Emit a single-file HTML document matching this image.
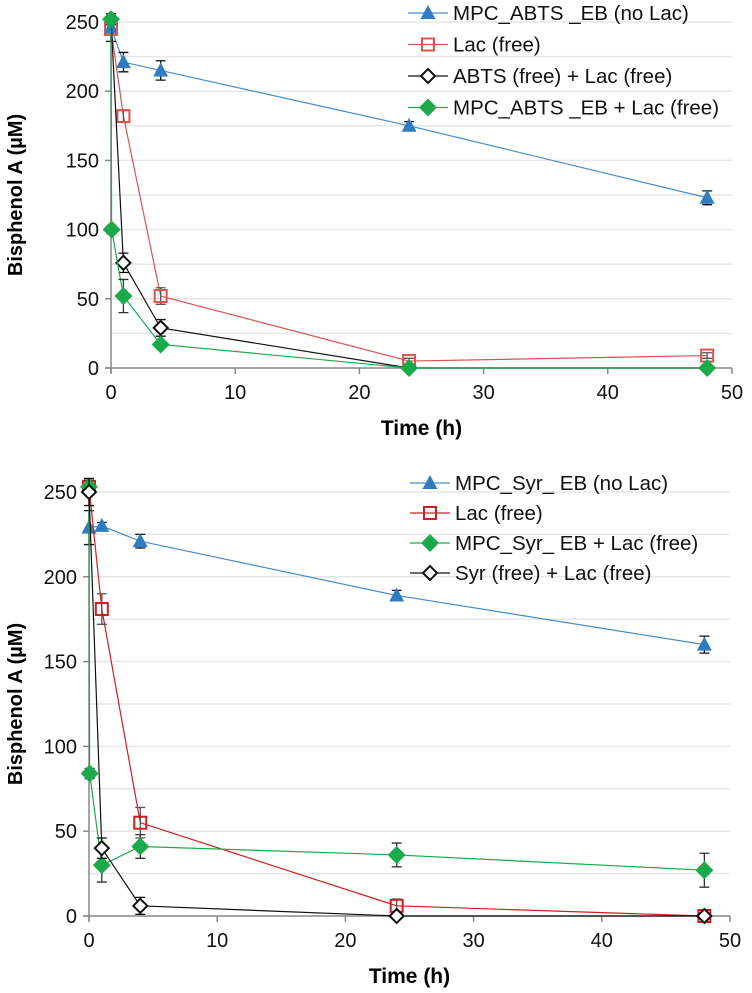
<!DOCTYPE html>
<html><head><meta charset="utf-8"><style>
html,body{margin:0;padding:0;background:#fff}
svg{display:block;font-family:"Liberation Sans",Arial,sans-serif}
</style></head><body>
<svg id="c" width="752" height="993" viewBox="0 0 752 993"></svg>
<script>
const topTimesBlue=[0,1,4,24,48];
const topBlue=[246,221,215,175,123];
const topBlueErr=[10,7,7,3,5];
const topTimesRed=[0,1,4,24,48];
const topRed=[245,182,52,5,9];
const topRedErr=[4,4,6,2,2];
const topTimesBlack=[0,1,4,24,48];
const topBlack=[252,76,29,0,0];
const topBlackErr=[4,7,6,1,1];
const topTimesGreen=[0,0.05,1,4,24,48];
const topGreen=[252,100,52,17,0,0];
const topGreenErr=[4,3,12,2,1,1];

const botTimesBlue=[0,1,4,24,48];
const botBlue=[229,230,221,189,160];
const botBlueErr=[10,2,4,3,5];
const botTimesRed=[0,1,4,24,48];
const botRed=[253,181,55,6,0];
const botRedErr=[4,9,9,4,1];
const botTimesGreen=[0,0.05,1,4,24,48];
const botGreen=[253,84,30,41,36,27];
const botGreenErr=[4,3,10,7,7,10];
const botTimesBlack=[0,1,4,24,48];
const botBlack=[250,40,6,0,0];
const botBlackErr=[8,6,5,1,1];

const xTicks=[0,10,20,30,40,50];
const yTicks=[0,50,100,150,200,250];
const gridVals=[25,50,75,100,125,150,175,200,225,250];

const NS="http://www.w3.org/2000/svg";
const svg=document.getElementById('c');
function mk(tag,attrs,parent){const e=document.createElementNS(NS,tag);for(const k in attrs)e.setAttribute(k,attrs[k]);(parent||svg).appendChild(e);return e;}

function chart(cfg){
  const g=mk('g',{});
  
  
  const X=t=>cfg.x0+t*(cfg.x1-cfg.x0)/50;
  const Y=v=>cfg.y0-v*(cfg.y0-cfg.y250)/250;
  gridVals.forEach(v=>{const l=mk('line',{x1:cfg.x0,x2:cfg.x1,y1:Y(v),y2:Y(v),stroke:'#e6e6e6','stroke-width':1.5},g);
    
    });
  const ya=mk('line',{x1:cfg.x0,x2:cfg.x0,y1:cfg.y0+5,y2:Y(250),stroke:'#888','stroke-width':1.5},g);
  
  
  const xa=mk('line',{x1:cfg.x0-6,x2:cfg.x1,y1:cfg.y0,y2:cfg.y0,stroke:'#888','stroke-width':1.5},g);
  
  
  yTicks.forEach(v=>{mk('line',{x1:cfg.x0-6,x2:cfg.x0,y1:Y(v),y2:Y(v),stroke:'#888','stroke-width':1.5},g);
    const t=mk('text',{x:cfg.x0-12,y:Y(v)+7,'text-anchor':'end','font-size':20,fill:'#111'},g);t.textContent=v;
    
    });
  xTicks.forEach(v=>{mk('line',{x1:X(v),x2:X(v),y1:cfg.y0,y2:cfg.y0+6,stroke:'#888','stroke-width':1.5},g);
    const t=mk('text',{x:X(v),y:cfg.y0+31,'text-anchor':'middle','font-size':20,fill:'#111'},g);t.textContent=v;
    
    });
  const xt=mk('text',{x:(cfg.x0+cfg.x1)/2,y:cfg.y0+67,'text-anchor':'middle','font-size':21,'font-weight':'bold'},g);xt.textContent='Time (h)';
  
  
  const yc=(cfg.y0+Y(250))/2;
  const yt=mk('text',{x:0,y:0,'text-anchor':'middle','font-size':20,'font-weight':'bold',transform:`translate(${cfg.ytx},${yc}) rotate(-90)`},g);yt.textContent='Bisphenol A (µM)';
  
  

  cfg.series.forEach((s,si)=>{
    const sg=mk('g',{},g);
    
    
    mk('polyline',{points:s.t.map((t,i)=>X(t)+','+Y(s.v[i])).join(' '),fill:'none',stroke:s.line,'stroke-width':1.2},sg);
    s.t.forEach((t,i)=>{
      const x=X(t),y=Y(s.v[i]),e=s.e[i]*(cfg.y0-cfg.y250)/250;
      if(e>1.5){mk('path',{d:`M${x},${y-e}V${y+e}M${x-5},${y-e}H${x+5}M${x-5},${y+e}H${x+5}`,stroke:s.err,'stroke-width':1.3,fill:'none'},sg);}
      const m=marker(s.shape,x,y,s.color,sg);
      
      
    });
    const ly=cfg.legY+si*cfg.legDy;
    const lg=mk('g',{},g);
    
    
    mk('line',{x1:cfg.legX-20,x2:cfg.legX+20,y1:ly,y2:ly,stroke:s.line,'stroke-width':1.2},lg);
    marker(s.shape,cfg.legX,ly,s.color,lg);
    const lt=mk('text',{x:cfg.legX+25,y:ly+7,'font-size':20.5,fill:'#111'},lg);lt.textContent=s.label;
  });
}
function marker(shape,x,y,c,p){
  if(shape==='tri')return mk('path',{d:`M${x},${y-8}L${x+7.5},${y+6}L${x-7.5},${y+6}Z`,fill:c},p);
  if(shape==='sq')return mk('rect',{x:x-6,y:y-6,width:12,height:12,fill:'none',stroke:c,'stroke-width':2},p);
  if(shape==='odia')return mk('path',{d:`M${x},${y-7}L${x+7},${y}L${x},${y+7}L${x-7},${y}Z`,fill:'#fff',stroke:c,'stroke-width':2},p);
  return mk('path',{d:`M${x},${y-9}L${x+9},${y}L${x},${y+9}L${x-9},${y}Z`,fill:c},p);
}
chart({name:'abts-chart',x0:111,x1:732,y0:368,y250:22,ytx:22,legX:428,legY:13,legDy:31.5,series:[
 {key:'mpc-abts-eb-no-lac',label:'MPC_ABTS _EB (no Lac)',t:topTimesBlue,v:topBlue,e:topBlueErr,shape:'tri',color:'#2e7dc2',line:'#4a8cc8',err:'#111'},
 {key:'lac-free',label:'Lac (free)',t:topTimesRed,v:topRed,e:topRedErr,shape:'sq',color:'#d9534f',line:'#d9534f',err:'#555'},
 {key:'abts-free-lac-free',label:'ABTS (free) + Lac (free)',t:topTimesBlack,v:topBlack,e:topBlackErr,shape:'odia',color:'#111',line:'#111',err:'#111'},
 {key:'mpc-abts-eb-lac-free',label:'MPC_ABTS _EB + Lac (free)',t:topTimesGreen,v:topGreen,e:topGreenErr,shape:'dia',color:'#1aaa4b',line:'#1aaa4b',err:'#333'}]});
chart({name:'syr-chart',x0:89,x1:730,y0:916,y250:492,ytx:22,legX:430,legY:483,legDy:30,series:[
 {key:'mpc-syr-eb-no-lac',label:'MPC_Syr_ EB (no Lac)',t:botTimesBlue,v:botBlue,e:botBlueErr,shape:'tri',color:'#2e7dc2',line:'#4a8cc8',err:'#111'},
 {key:'lac-free',label:'Lac (free)',t:botTimesRed,v:botRed,e:botRedErr,shape:'sq',color:'#cc1f1f',line:'#cc1f1f',err:'#555'},
 {key:'mpc-syr-eb-lac-free',label:'MPC_Syr_ EB + Lac (free)',t:botTimesGreen,v:botGreen,e:botGreenErr,shape:'dia',color:'#1aaa4b',line:'#1aaa4b',err:'#333'},
 {key:'syr-free-lac-free',label:'Syr (free) + Lac (free)',t:botTimesBlack,v:botBlack,e:botBlackErr,shape:'odia',color:'#111',line:'#111',err:'#111'}]});
</script>
</body></html>
